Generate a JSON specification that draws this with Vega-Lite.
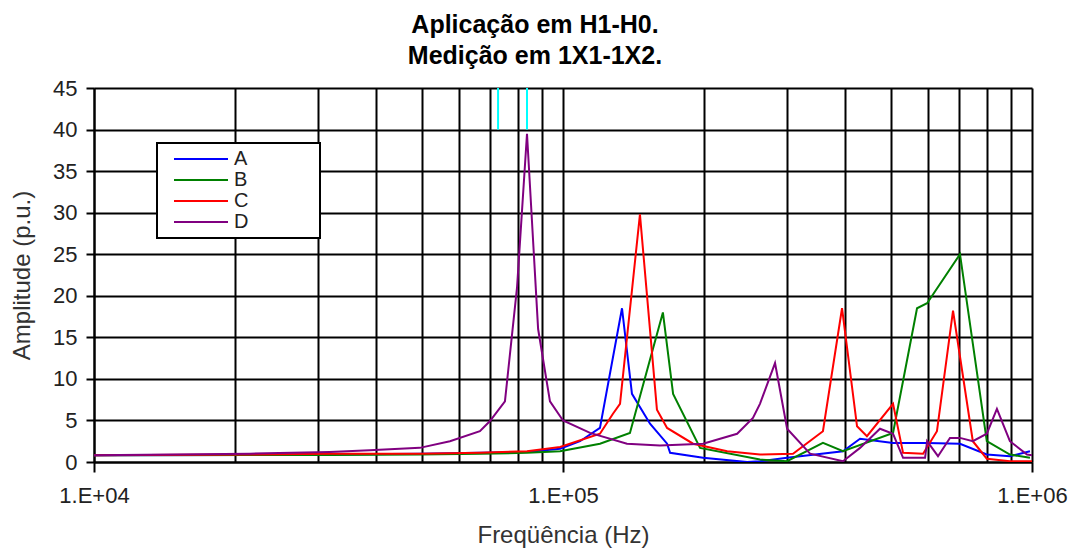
{
  "$schema": "https://vega.github.io/schema/vega-lite/v6.json",
  "width": 938,
  "height": 374,
  "autosize": "none",
  "padding": {"left": 94, "top": 88, "right": 43, "bottom": 86},
  "background": "white",
  "config": {
    "view": {"stroke": null},
    "font": "Liberation Sans",
    "legend": {"strokeWidth": 2}
  },
  "title": {
    "text": ["Aplicação em H1-H0.", "Medição em 1X1-1X2."],
    "fontSize": 25,
    "fontWeight": "bold",
    "font": "Liberation Sans",
    "color": "black",
    "anchor": "middle",
    "dx": -28,
    "offset": 8,
    "lineHeight": 31
  },
  "datasets": {
    "series": [
      {"serie": "A", "f": 10000, "amp": 0.8},
      {"serie": "A", "f": 21500, "amp": 0.85},
      {"serie": "A", "f": 31800, "amp": 0.9},
      {"serie": "A", "f": 49500, "amp": 1.0},
      {"serie": "A", "f": 66500, "amp": 1.1},
      {"serie": "A", "f": 83800, "amp": 1.2},
      {"serie": "A", "f": 98600, "amp": 1.6},
      {"serie": "A", "f": 108700, "amp": 2.5},
      {"serie": "A", "f": 119900, "amp": 4.1},
      {"serie": "A", "f": 133600, "amp": 18.5},
      {"serie": "A", "f": 140300, "amp": 8.2},
      {"serie": "A", "f": 153300, "amp": 4.6},
      {"serie": "A", "f": 166700, "amp": 2.2},
      {"serie": "A", "f": 169200, "amp": 1.1},
      {"serie": "A", "f": 198900, "amp": 0.5},
      {"serie": "A", "f": 246900, "amp": 0.0},
      {"serie": "A", "f": 263000, "amp": 0.1},
      {"serie": "A", "f": 300500, "amp": 0.5},
      {"serie": "A", "f": 395400, "amp": 1.3},
      {"serie": "A", "f": 429900, "amp": 2.8},
      {"serie": "A", "f": 505500, "amp": 2.3},
      {"serie": "A", "f": 597500, "amp": 2.3},
      {"serie": "A", "f": 702200, "amp": 2.2},
      {"serie": "A", "f": 801000, "amp": 0.9},
      {"serie": "A", "f": 897200, "amp": 0.7},
      {"serie": "A", "f": 990000, "amp": 1.3},

      {"serie": "B", "f": 10000, "amp": 0.8},
      {"serie": "B", "f": 31800, "amp": 0.85},
      {"serie": "B", "f": 49500, "amp": 0.9},
      {"serie": "B", "f": 66500, "amp": 1.0},
      {"serie": "B", "f": 83800, "amp": 1.1},
      {"serie": "B", "f": 98600, "amp": 1.3},
      {"serie": "B", "f": 119900, "amp": 2.2},
      {"serie": "B", "f": 138900, "amp": 3.5},
      {"serie": "B", "f": 163300, "amp": 18.0},
      {"serie": "B", "f": 171700, "amp": 8.2},
      {"serie": "B", "f": 196000, "amp": 1.7},
      {"serie": "B", "f": 263000, "amp": 0.3},
      {"serie": "B", "f": 300500, "amp": 0.1},
      {"serie": "B", "f": 358300, "amp": 2.3},
      {"serie": "B", "f": 395400, "amp": 1.3},
      {"serie": "B", "f": 505500, "amp": 3.5},
      {"serie": "B", "f": 568700, "amp": 18.5},
      {"serie": "B", "f": 597500, "amp": 19.1},
      {"serie": "B", "f": 702200, "amp": 25.0},
      {"serie": "B", "f": 801000, "amp": 2.5},
      {"serie": "B", "f": 897200, "amp": 0.9},
      {"serie": "B", "f": 990000, "amp": 0.5},

      {"serie": "C", "f": 10000, "amp": 0.8},
      {"serie": "C", "f": 21500, "amp": 0.9},
      {"serie": "C", "f": 31800, "amp": 1.0},
      {"serie": "C", "f": 49500, "amp": 1.0},
      {"serie": "C", "f": 66500, "amp": 1.1},
      {"serie": "C", "f": 83800, "amp": 1.3},
      {"serie": "C", "f": 98600, "amp": 1.8},
      {"serie": "C", "f": 119900, "amp": 3.4},
      {"serie": "C", "f": 127800, "amp": 5.8},
      {"serie": "C", "f": 132300, "amp": 7.0},
      {"serie": "C", "f": 145900, "amp": 29.8},
      {"serie": "C", "f": 158600, "amp": 6.3},
      {"serie": "C", "f": 166700, "amp": 4.1},
      {"serie": "C", "f": 189400, "amp": 2.2},
      {"serie": "C", "f": 223900, "amp": 1.3},
      {"serie": "C", "f": 263000, "amp": 0.9},
      {"serie": "C", "f": 309300, "amp": 1.0},
      {"serie": "C", "f": 358300, "amp": 3.7},
      {"serie": "C", "f": 393500, "amp": 18.5},
      {"serie": "C", "f": 423600, "amp": 4.3},
      {"serie": "C", "f": 444700, "amp": 3.1},
      {"serie": "C", "f": 505500, "amp": 7.0},
      {"serie": "C", "f": 531000, "amp": 1.1},
      {"serie": "C", "f": 585800, "amp": 1.0},
      {"serie": "C", "f": 627100, "amp": 3.7},
      {"serie": "C", "f": 678600, "amp": 18.2},
      {"serie": "C", "f": 747900, "amp": 2.5},
      {"serie": "C", "f": 801000, "amp": 0.4},
      {"serie": "C", "f": 897200, "amp": 0.1},
      {"serie": "C", "f": 1000000, "amp": 0.1},

      {"serie": "D", "f": 10000, "amp": 0.8},
      {"serie": "D", "f": 21500, "amp": 1.0},
      {"serie": "D", "f": 31800, "amp": 1.2},
      {"serie": "D", "f": 38700, "amp": 1.4},
      {"serie": "D", "f": 49500, "amp": 1.7},
      {"serie": "D", "f": 57400, "amp": 2.5},
      {"serie": "D", "f": 66500, "amp": 3.7},
      {"serie": "D", "f": 69800, "amp": 4.9},
      {"serie": "D", "f": 75200, "amp": 7.3},
      {"serie": "D", "f": 79800, "amp": 21.0},
      {"serie": "D", "f": 83800, "amp": 39.5},
      {"serie": "D", "f": 88500, "amp": 16.0},
      {"serie": "D", "f": 93800, "amp": 7.3},
      {"serie": "D", "f": 100000, "amp": 5.0},
      {"serie": "D", "f": 114200, "amp": 3.5},
      {"serie": "D", "f": 136900, "amp": 2.2},
      {"serie": "D", "f": 160900, "amp": 2.0},
      {"serie": "D", "f": 198900, "amp": 2.2},
      {"serie": "D", "f": 235100, "amp": 3.4},
      {"serie": "D", "f": 254100, "amp": 5.3},
      {"serie": "D", "f": 263000, "amp": 7.0},
      {"serie": "D", "f": 283200, "amp": 11.9},
      {"serie": "D", "f": 300500, "amp": 4.0},
      {"serie": "D", "f": 336300, "amp": 1.0},
      {"serie": "D", "f": 395400, "amp": 0.1},
      {"serie": "D", "f": 429900, "amp": 1.7},
      {"serie": "D", "f": 474100, "amp": 4.0},
      {"serie": "D", "f": 505500, "amp": 3.4},
      {"serie": "D", "f": 531000, "amp": 0.5},
      {"serie": "D", "f": 591600, "amp": 0.5},
      {"serie": "D", "f": 597500, "amp": 2.5},
      {"serie": "D", "f": 630300, "amp": 0.7},
      {"serie": "D", "f": 668500, "amp": 2.9},
      {"serie": "D", "f": 702200, "amp": 2.9},
      {"serie": "D", "f": 747900, "amp": 2.5},
      {"serie": "D", "f": 801000, "amp": 3.4},
      {"serie": "D", "f": 841800, "amp": 6.4},
      {"serie": "D", "f": 897200, "amp": 2.5},
      {"serie": "D", "f": 975900, "amp": 0.9},
      {"serie": "D", "f": 1000000, "amp": 0.8}
    ],
    "markers": [
      {"f": 72700, "lo": 40, "hi": 45},
      {"f": 83800, "lo": 40, "hi": 45}
    ]
  },
  "layer": [
    {
      "data": {"name": "series"},
      "mark": {"type": "line", "strokeWidth": 2, "clip": true},
      "encoding": {
        "x": {
          "field": "f",
          "type": "quantitative",
          "scale": {"type": "log", "domain": [10000, 1000000]},
          "axis": {
            "values": [10000, 20000, 30000, 40000, 50000, 60000, 70000, 80000, 90000, 100000, 200000, 300000, 400000, 500000, 600000, 700000, 800000, 900000, 1000000],
            "grid": true,
            "gridColor": "black",
            "gridWidth": 2,
            "gridOpacity": 1,
            "domainColor": "black",
            "domainWidth": 2,
            "tickColor": "black",
            "tickWidth": 2,
            "tickSize": 10,
            "tickOpacity": {"condition": {"test": "datum.value == 10000 || datum.value == 100000 || datum.value == 1000000", "value": 1}, "value": 0},
            "labelExpr": "datum.value == 10000 ? '1.E+04' : datum.value == 100000 ? '1.E+05' : datum.value == 1000000 ? '1.E+06' : ''",
            "labelFontSize": 22,
            "labelColor": "#222",
            "labelPadding": 13,
            "labelFlush": false,
            "labelOverlap": false,
            "title": "Freqüência (Hz)",
            "titleFontSize": 24,
            "titleFontWeight": "normal",
            "titleColor": "#333",
            "titleY": 80,
            "titleBaseline": "alphabetic"
          }
        },
        "y": {
          "field": "amp",
          "type": "quantitative",
          "scale": {"domain": [0, 45], "nice": false},
          "axis": {
            "values": [0, 5, 10, 15, 20, 25, 30, 35, 40, 45],
            "grid": true,
            "gridColor": "black",
            "gridWidth": 2,
            "gridOpacity": 1,
            "domainColor": "black",
            "domainWidth": 2,
            "tickColor": "black",
            "tickWidth": 2,
            "tickSize": 8,
            "labelFontSize": 22,
            "labelColor": "#222",
            "labelPadding": 9,
            "title": "Amplitude (p.u.)",
            "titleFontSize": 24,
            "titleFontWeight": "normal",
            "titleColor": "#333",
            "titleX": -65,
            "titleY": 187,
            "titleAngle": 270,
            "titleAlign": "center",
            "titleBaseline": "alphabetic"
          }
        },
        "color": {
          "field": "serie",
          "type": "nominal",
          "scale": {"domain": ["A", "B", "C", "D"], "range": ["#0000FF", "#008000", "#FF0000", "#800080"]},
          "legend": {
            "orient": "none",
            "legendX": 63,
            "legendY": 55,
            "title": null,
            "fillColor": "white",
            "strokeColor": "black",
            "padding": 6,
            "symbolType": "stroke",
            "symbolSize": 2916,
            "symbolStrokeWidth": 2,
            "symbolOffset": 10,
            "clipHeight": 20,
            "rowPadding": 1,
            "labelFontSize": 20,
            "labelColor": "#222",
            "labelOffset": 5,
            "labelExpr": "datum.label + '\u00a0\u00a0\u00a0\u00a0\u00a0\u00a0\u00a0\u00a0\u00a0\u2800'"
          }
        }
      }
    },
    {
      "data": {"name": "markers"},
      "mark": {"type": "rule", "color": "#00FFFF", "strokeWidth": 2},
      "encoding": {
        "x": {"field": "f", "type": "quantitative"},
        "y": {"field": "lo", "type": "quantitative"},
        "y2": {"field": "hi"}
      }
    }
  ]
}
